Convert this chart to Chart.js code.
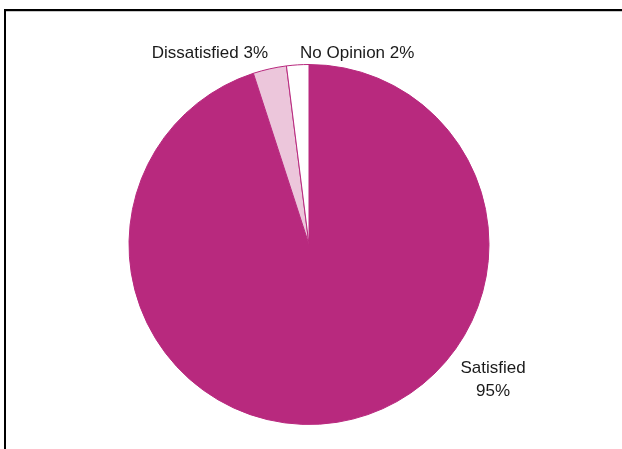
<!DOCTYPE html>
<html><head><meta charset="utf-8">
<script src="https://cdn.jsdelivr.net/npm/chart.js@4.4.0/dist/chart.umd.min.js"></script>
<style>html,body{margin:0;padding:0;background:#fff;}#wrap{width:622px;height:449px;position:relative;}</style>
</head><body><div id="wrap"><canvas id="c" width="622" height="449"></canvas></div>
<script>
const categories = ["Satisfied", "Dissatisfied", "No Opinion"];
const values = [95, 3, 2];
const colors = ["#B8297E", "#ECC6DB", "#FFFFFF"];

const frame = {
  id: 'frame',
  beforeDraw(chart) {
    const ctx = chart.ctx;
    ctx.save();
    ctx.strokeStyle = '#c8c8c8'; ctx.lineWidth = 1;
    ctx.beginPath(); ctx.moveTo(6, 11.5); ctx.lineTo(622, 11.5); ctx.stroke();
    ctx.strokeStyle = '#000'; ctx.lineWidth = 2;
    ctx.beginPath(); ctx.moveTo(4.5, 10); ctx.lineTo(622, 10); ctx.stroke();
    ctx.beginPath(); ctx.moveTo(5, 9); ctx.lineTo(5, 449); ctx.stroke();
    ctx.restore();
  }
};

const labels = {
  id: 'labels',
  afterDraw(chart) {
    const ctx = chart.ctx;
    const meta = chart.getDatasetMeta(0);
    ctx.save();
    ctx.fillStyle = '#1a1a1a';
    ctx.font = '17px "Liberation Sans", Arial, sans-serif';
    ctx.textBaseline = 'alphabetic';
    meta.data.forEach((arc, i) => {
      const {x, y, outerRadius} = arc.getProps(['x','y','outerRadius'], true);
      if (i === 0) {
        ctx.textAlign = 'center';
        ctx.fillText(categories[i], x + 184, y + 128.5);
        ctx.fillText(values[i] + '%', x + 184, y + 151);
      } else {
        const txt = categories[i] + ' ' + values[i] + '%';
        const py = y - outerRadius - 7;
        ctx.textAlign = i === 1 ? 'right' : 'left';
        const px = i === 1 ? x - 41 : x - 9;
        ctx.fillText(txt, px, py);
      }
    });
    ctx.restore();
  }
};

new Chart(document.getElementById('c'), {
  type: 'pie',
  data: {
    labels: categories,
    datasets: [{
      data: values,
      backgroundColor: colors,
      borderColor: '#B8297E',
      borderWidth: 1
    }]
  },
  options: {
    responsive: false,
    animation: false,
    layout: { padding: { left: 128, right: 132, top: 64, bottom: 24 } },
    plugins: { legend: { display: false }, tooltip: { enabled: false } }
  },
  plugins: [frame, labels]
});
</script></body></html>
